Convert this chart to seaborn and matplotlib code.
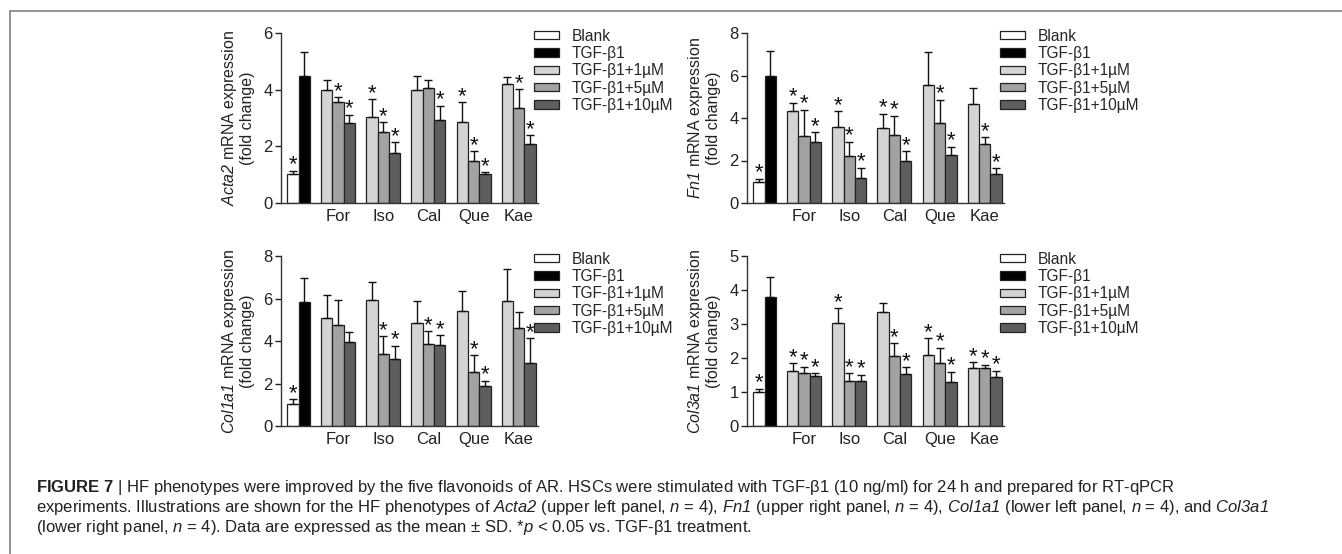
import matplotlib
matplotlib.use("Agg")
import matplotlib.pyplot as plt
import seaborn as sns
import pandas as pd
from matplotlib.patches import Patch
from matplotlib.lines import Line2D

sns.set_theme(style="ticks")
plt.rcParams["font.family"] = ["Liberation Sans", "DejaVu Sans"]
plt.rcParams["mathtext.fontset"] = "custom"
# math parts are only italic gene names / symbols, so rm is italic too (digits go to rm)
plt.rcParams["mathtext.rm"] = "Liberation Sans:italic"
plt.rcParams["mathtext.it"] = "Liberation Sans:italic"
plt.rcParams["mathtext.bf"] = "Liberation Sans:bold"

groups = ["For", "Iso", "Cal", "Que", "Kae"]
doses = ["TGF-β1+1µM", "TGF-β1+5µM", "TGF-β1+10µM"]
treatments = ["Blank", "TGF-β1"] + doses
colors = ["white", "black", "#d4d4d4", "#a2a2a2", "#5e5e5e"]

# bar order: Blank, TGF-β1, then For/Iso/Cal/Que/Kae x (1, 5, 10 µM)
acta2_mean = [1.02, 4.49, 4.00, 3.58, 2.82, 3.04, 2.49, 1.76, 4.00, 4.05, 2.92, 2.87, 1.48, 1.02, 4.20, 3.34, 2.08]
acta2_sd = [0.12, 0.83, 0.35, 0.15, 0.30, 0.63, 0.36, 0.38, 0.47, 0.28, 0.52, 0.68, 0.34, 0.07, 0.24, 0.67, 0.31]
acta2_sig = [1, 0, 0, 1, 1, 1, 1, 1, 0, 0, 1, 1, 1, 1, 0, 1, 1]

fn1_mean = [1.00, 5.99, 4.31, 3.17, 2.87, 3.58, 2.20, 1.19, 3.53, 3.22, 1.99, 5.57, 3.75, 2.27, 4.64, 2.76, 1.35]
fn1_sd = [0.14, 1.18, 0.41, 1.21, 0.46, 0.75, 0.69, 0.46, 0.67, 0.88, 0.44, 1.53, 1.10, 0.38, 0.77, 0.33, 0.28]
fn1_sig = [1, 0, 1, 1, 1, 1, 1, 1, 1, 1, 1, 0, 1, 1, 0, 1, 1]

col1a1_mean = [1.04, 5.85, 5.07, 4.77, 3.97, 5.93, 3.37, 3.14, 4.83, 3.84, 3.83, 5.41, 2.53, 1.90, 5.90, 4.61, 2.95]
col1a1_sd = [0.21, 1.13, 1.10, 1.16, 0.44, 0.83, 0.86, 0.63, 1.07, 0.63, 0.44, 0.96, 0.80, 0.24, 1.50, 0.77, 1.18]
col1a1_sig = [1, 0, 0, 0, 0, 0, 1, 1, 0, 1, 1, 0, 1, 1, 0, 0, 1]

col3a1_mean = [1.01, 3.78, 1.62, 1.57, 1.47, 3.02, 1.32, 1.33, 3.36, 2.07, 1.53, 2.09, 1.84, 1.30, 1.70, 1.71, 1.45]
col3a1_sd = [0.09, 0.59, 0.23, 0.18, 0.08, 0.45, 0.23, 0.18, 0.27, 0.36, 0.20, 0.49, 0.46, 0.30, 0.17, 0.09, 0.18]
col3a1_sig = [1, 0, 1, 1, 1, 1, 1, 1, 0, 1, 1, 1, 1, 1, 1, 1, 1]

genes = ["Acta2", "Fn1", "Col1a1", "Col3a1"]
y_max = [6, 8, 8, 5]
y_step = [2, 2, 2, 1]

bar_names = ["Blank", "TGF-β1"] + [f"{g} {d}" for g in groups for d in doses]
bar_treat = ["Blank", "TGF-β1"] + doses * len(groups)
# empty categories leave the gaps between groups
order = ["Blank", "TGF-β1"]
for i, g in enumerate(groups):
    order += [f"gap{i}"] + [f"{g} {d}" for d in doses]

W, H = 1342, 554
fig = plt.figure(figsize=(W / 100, H / 100), dpi=100)
ax_px = [(281, 33), (747, 33), (281, 256), (747, 256)]
ax_w, ax_h = 257, 170


def draw(ax, mean, sd, sig, gene, ymax, step):
    df = pd.DataFrame({"bar": bar_names, "treatment": bar_treat,
                       "mean": mean, "sd": sd, "sig": sig})
    sns.barplot(data=df, x="bar", y="mean", hue="treatment", order=order,
                hue_order=treatments, palette=dict(zip(treatments, colors)),
                dodge=False, width=1, edgecolor="#222222", linewidth=0.9,
                errorbar=None, legend=False, ax=ax)
    xs = [order.index(b) for b in df["bar"]]
    ax.errorbar(xs, df["mean"], yerr=[[0] * len(df), df["sd"]], fmt="none",
                ecolor="#111111", elinewidth=1, capsize=2.8, capthick=1, zorder=1)
    for x, m, s, g in zip(xs, df["mean"], df["sd"], df["sig"]):
        if g:
            ax.annotate("*", (x, m + s), xytext=(0, 0.2), textcoords="offset points",
                        ha="center", va="baseline", fontsize=16, color="#111111")
    ax.set_xlim(-1.05, len(order) - 0.3)
    ax.set_ylim(0, ymax)
    ax.set_yticks(range(0, ymax + 1, step))
    ax.set_xticks([order.index(f"{g} {doses[1]}") for g in groups], labels=groups)
    ax.tick_params(axis="x", length=0, pad=4, labelsize=12, colors="#222222")
    ax.tick_params(axis="y", length=4, width=1, pad=2, labelsize=12, colors="#222222")
    ax.set_xlabel("")
    ax.set_ylabel(rf"$\mathit{{{gene}}}$ mRNA expression" + "\n(fold change)",
                  fontsize=11.5, labelpad=6, linespacing=1.05, color="#222222")
    sns.despine(ax=ax)
    for sp in ["left", "bottom"]:
        ax.spines[sp].set_color("#333333")
        ax.spines[sp].set_linewidth(1)
    handles = [Patch(facecolor=c, edgecolor="#222222", linewidth=0.9) for c in colors]
    ax.legend(handles, treatments, loc="upper left", bbox_to_anchor=(0.985, 1.025),
              frameon=False, borderpad=0, borderaxespad=0, handlelength=1.6,
              handleheight=0.45, handletextpad=0.8, labelspacing=0.15, fontsize=11.2)


data = [(acta2_mean, acta2_sd, acta2_sig), (fn1_mean, fn1_sd, fn1_sig),
        (col1a1_mean, col1a1_sd, col1a1_sig), (col3a1_mean, col3a1_sd, col3a1_sig)]
for (x0, y0), (m, s, g), gene, ym, st in zip(ax_px, data, genes, y_max, y_step):
    ax = fig.add_axes([x0 / W, 1 - (y0 + ax_h) / H, ax_w / W, ax_h / H])
    draw(ax, m, s, g, gene, ym, st)

# frame lines of the figure box
fy = 1 - 10.5 / H
fx = 10 / W
fig.add_artist(Line2D([fx, 1], [fy, fy], transform=fig.transFigure, color="#8a8a8a", lw=1.3))
fig.add_artist(Line2D([fx, fx], [0, fy], transform=fig.transFigure, color="#8a8a8a", lw=1.3))

caption = [
    r"$\mathbf{FIGURE\ 7}$ | HF phenotypes were improved by the five flavonoids of AR. "
    r"HSCs were stimulated with TGF-β1 (10 ng/ml) for 24 h and prepared for RT-qPCR",
    r"experiments. Illustrations are shown for the HF phenotypes of $\mathit{Acta2}$ "
    r"(upper left panel, $\mathit{n}$ = 4), $\mathit{Fn1}$ (upper right panel, $\mathit{n}$ = 4), "
    r"$\mathit{Col1a1}$ (lower left panel, $\mathit{n}$ = 4), and $\mathit{Col3a1}$",
    r"(lower right panel, $\mathit{n}$ = 4). Data are expressed as the mean ± SD. "
    r"*$\mathit{p}$ < 0.05 vs. TGF-β1 treatment.",
]
for i, line in enumerate(caption):
    fig.text(36 / W, 1 - (492 + 20 * i) / H, line, fontsize=12, va="baseline",
             family=["Liberation Sans", "DejaVu Sans"], color="#222222")

fig.savefig("out.png", dpi=100)
